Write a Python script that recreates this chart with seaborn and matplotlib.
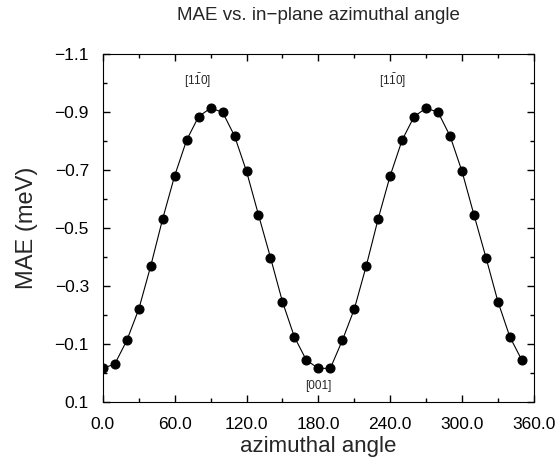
import numpy as np
import pandas as pd
import matplotlib
matplotlib.use("Agg")
import matplotlib.pyplot as plt
import seaborn as sns
from matplotlib.ticker import MultipleLocator, FuncFormatter

# data
angle = [0, 10, 20, 30, 40, 50, 60, 70, 80, 90, 100, 110, 120, 130, 140, 150, 160, 170,
         180, 190, 200, 210, 220, 230, 240, 250, 260, 270, 280, 290, 300, 310, 320, 330, 340, 350]
mae = [-0.015, -0.030, -0.111, -0.219, -0.368, -0.531, -0.679, -0.802, -0.883, -0.912,
       -0.898, -0.816, -0.694, -0.544, -0.397, -0.245, -0.123, -0.043,
       -0.015, -0.015, -0.111, -0.219, -0.368, -0.531, -0.679, -0.802, -0.883, -0.912,
       -0.898, -0.816, -0.694, -0.544, -0.397, -0.245, -0.123, -0.043]

peak_labels = [r"$[1\bar{1}0]$", r"$[1\bar{1}0]$", "[001]"]
peak_x = [79, 242, 180]
peak_y = [-1.005, -1.005, 0.045]

df = pd.DataFrame({"angle": angle, "mae": mae})

sns.set_style("ticks")
plt.rcParams["font.family"] = ["Liberation Sans", "DejaVu Sans"]
plt.rcParams["mathtext.default"] = "regular"

fig = plt.figure(figsize=(5.59, 4.66), dpi=100)
ax = fig.add_axes([0.184, 0.138, 0.771, 0.747])

sns.lineplot(data=df, x="angle", y="mae", ax=ax, color="black", linewidth=0.8,
             marker="o", markersize=6.5, markeredgecolor="black", markerfacecolor="black")

fmt = FuncFormatter(lambda v, p: f"{v:.1f}".replace("-", "\u2212"))

ax.set_xlim(0, 360)
ax.set_ylim(0.1, -1.1)
ax.xaxis.set_major_locator(MultipleLocator(60))
ax.xaxis.set_minor_locator(MultipleLocator(30))
ax.yaxis.set_major_locator(MultipleLocator(0.2, offset=0.1))
ax.yaxis.set_minor_locator(MultipleLocator(0.1))
ax.xaxis.set_major_formatter(fmt)
ax.yaxis.set_major_formatter(fmt)
ax.tick_params(which="both", direction="in", top=True, right=True, colors="black",
               labelsize=12.5, width=1)
ax.tick_params(which="major", length=5)
ax.tick_params(which="minor", length=3)
ax.tick_params(axis="x", which="major", pad=11)
ax.tick_params(axis="y", which="major", pad=10)
for s in ax.spines.values():
    s.set_color("black")
    s.set_linewidth(0.8)

ax.set_xlabel("azimuthal angle", fontsize=16, labelpad=3)
ax.set_ylabel("MAE (meV)", fontsize=17, labelpad=12)
ax.set_title("MAE vs. in\u2212plane azimuthal angle", fontsize=13.5, pad=24)

for lab, x, y in zip(peak_labels, peak_x, peak_y):
    ax.text(x, y, lab, fontsize=8.5, ha="center", va="center")

fig.savefig("out.png", dpi=100)
